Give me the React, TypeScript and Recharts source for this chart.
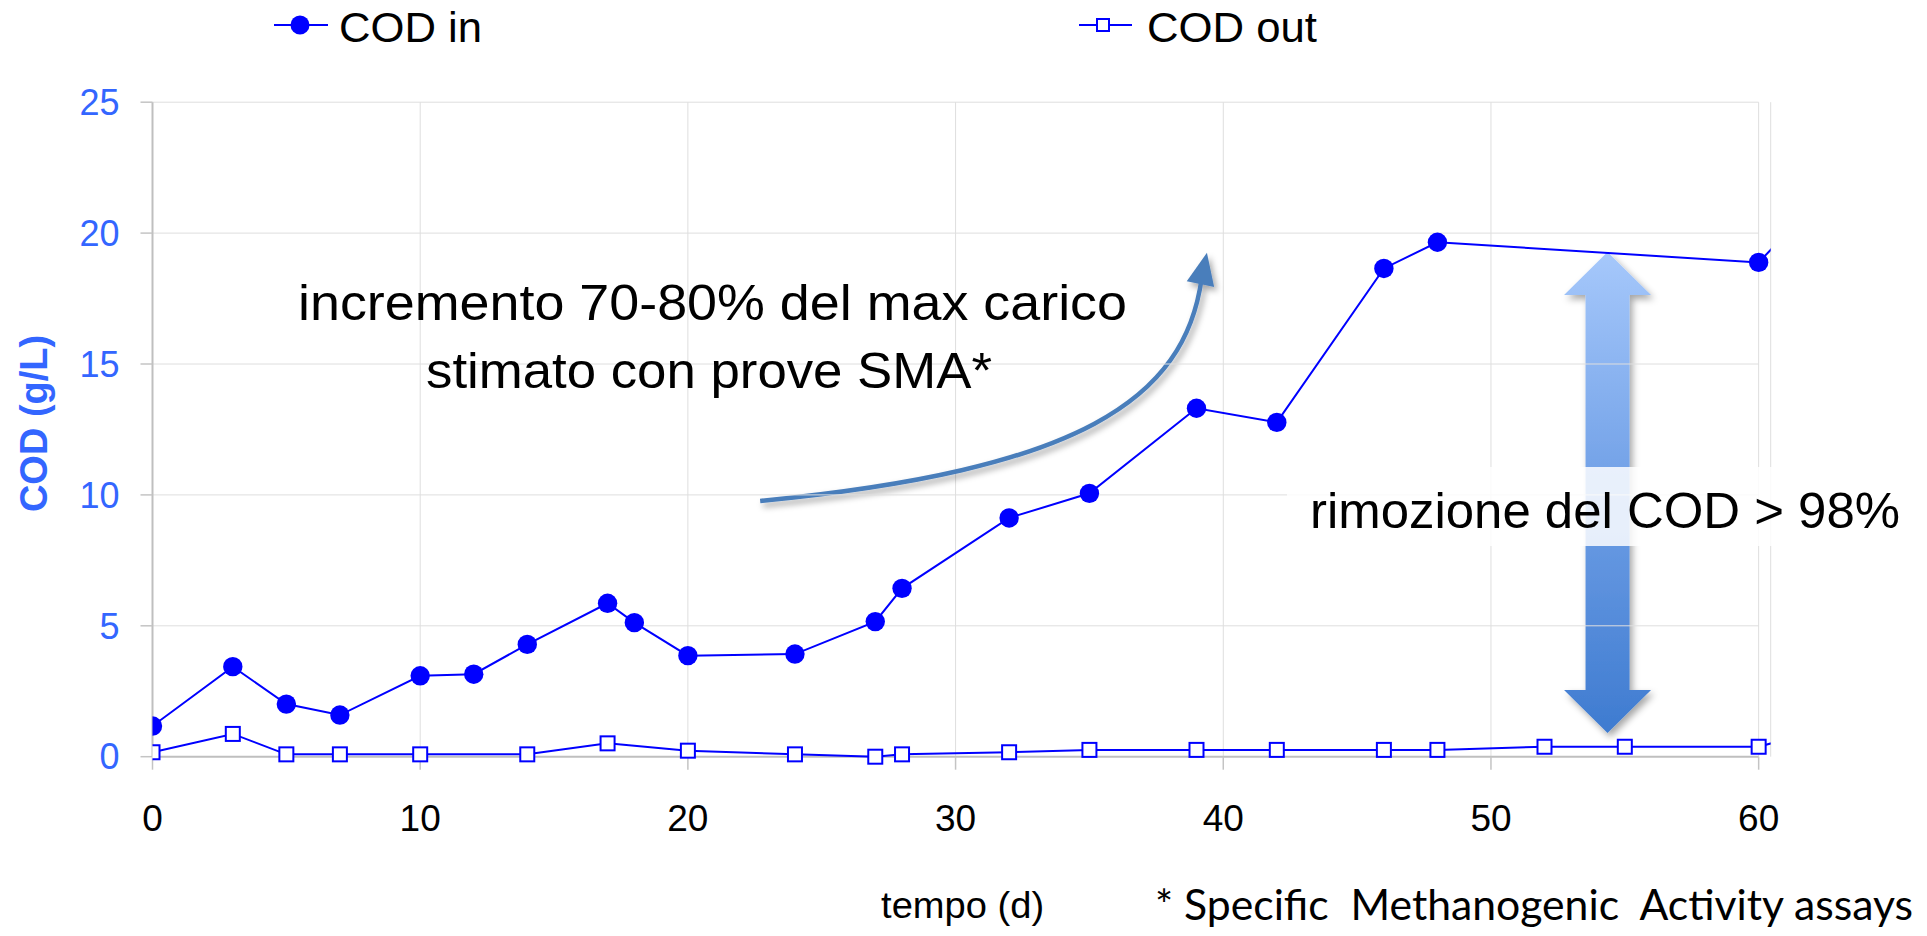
import React from 'react';
import {
  LineChart,
  Line,
  XAxis,
  YAxis,
  CartesianGrid,
  ReferenceLine,
  ReferenceArea,
  Legend,
} from 'recharts';

// ---------- data ----------
const codInDays = [0, 3, 5, 7, 10, 12, 14, 17, 18, 20, 24, 27, 28, 32, 35, 39, 42, 46, 48, 60, 61];
const codInValues = [1.17, 3.44, 2.01, 1.59, 3.09, 3.15, 4.29, 5.86, 5.12, 3.86, 3.92, 5.16, 6.43, 9.12, 10.06, 13.31, 12.77, 18.65, 19.65, 18.88, 19.95];
const codOutDays = [0, 3, 5, 7, 10, 14, 17, 20, 24, 27, 28, 32, 35, 39, 42, 46, 48, 52, 55, 60, 61];
const codOutValues = [0.17, 0.87, 0.09, 0.09, 0.09, 0.09, 0.51, 0.23, 0.09, 0.0, 0.09, 0.17, 0.26, 0.26, 0.26, 0.26, 0.26, 0.38, 0.38, 0.38, 0.66];
const xTicks = [0, 10, 20, 30, 40, 50, 60];
const yTicks = [0, 5, 10, 15, 20, 25];
const gridValues = [5, 10, 15, 20, 25];

const codInData = codInDays.map((d, i) => ({ day: d, value: codInValues[i] }));
const codOutData = codOutDays.map((d, i) => ({ day: d, value: codOutValues[i] }));

// annotation anchors (data units)
const curveArrowBox = { x1: 22.7, x2: 39.45, y1: 9.75, y2: 19.25 };
const removalArrowBox = { x1: 52.73, x2: 55.98, y1: 0.905, y2: 19.28 };

const FONT = "'Liberation Sans', Arial, Helvetica, sans-serif";
const BLUE = '#0000ff';
const AXIS_BLUE = '#3366ff';

const SquareDot = (props: any) => {
  const { cx, cy, index } = props;
  if (cx == null || cy == null) return null;
  return (
    <rect
      key={`sq-${index}`}
      x={cx - 7}
      y={cy - 7}
      width={14}
      height={14}
      fill="#ffffff"
      stroke={BLUE}
      strokeWidth={2}
    />
  );
};

const CurvedArrow = (props: any) => {
  const { x, y, width: w, height: h } = props;
  const P = (fx: number, fy: number) => [x + fx * w, y + fy * h];
  const p0 = P(0, 0.998);
  const p1 = P(0.713, 0.874);
  const p2 = P(0.947, 0.592);
  const p3 = P(0.983, 0.117);
  const tip = P(0.9964, 0.0);
  const dx = tip[0] - p3[0];
  const dy = tip[1] - p3[1];
  const len = Math.hypot(dx, dy);
  const ux = dx / len;
  const uy = dy / len;
  const base = [tip[0] - ux * 32, tip[1] - uy * 32];
  const px = -uy;
  const py = ux;
  const hw = 14;
  const head = `${tip[0]},${tip[1]} ${base[0] + px * hw},${base[1] + py * hw} ${base[0] - px * hw},${base[1] - py * hw}`;
  const shaftEnd = [tip[0] - ux * 26, tip[1] - uy * 26];
  return (
    <g>
      <defs>
        <filter id="curveShadow" x="-20%" y="-20%" width="140%" height="140%">
          <feDropShadow dx="3" dy="4" stdDeviation="3" floodColor="#000" floodOpacity="0.35" />
        </filter>
      </defs>
      <g filter="url(#curveShadow)">
        <path
          d={`M${p0[0]},${p0[1]} C${p1[0]},${p1[1]} ${p2[0]},${p2[1]} ${shaftEnd[0]},${shaftEnd[1]}`}
          fill="none"
          stroke="#4a7ebb"
          strokeWidth={4.5}
        />
        <polygon points={head} fill="#4a7ebb" />
      </g>
    </g>
  );
};

const DoubleArrow = (props: any) => {
  const { x, y, width: w, height: h } = props;
  const cx = x + w / 2;
  const headH = 43;
  const sh = 22;
  const pts = [
    [cx, y],
    [x + w, y + headH],
    [cx + sh, y + headH],
    [cx + sh, y + h - headH],
    [x + w, y + h - headH],
    [cx, y + h],
    [x, y + h - headH],
    [cx - sh, y + h - headH],
    [cx - sh, y + headH],
    [x, y + headH],
  ]
    .map((p) => `${p[0]},${p[1]}`)
    .join(' ');
  return (
    <g>
      <defs>
        <linearGradient id="dblGrad" x1="0" y1="0" x2="0" y2="1">
          <stop offset="0%" stopColor="#a6c8fb" />
          <stop offset="50%" stopColor="#6f9fe6" />
          <stop offset="100%" stopColor="#3e7bd0" />
        </linearGradient>
        <filter id="dblShadow" x="-40%" y="-10%" width="180%" height="120%">
          <feDropShadow dx="3" dy="4" stdDeviation="3.5" floodColor="#000" floodOpacity="0.35" />
        </filter>
      </defs>
      <polygon points={pts} fill="url(#dblGrad)" filter="url(#dblShadow)" />
    </g>
  );
};

const YLabel = (props: any) => {
  const vb = props.viewBox || { x: 0, y: 102, width: 152, height: 655 };
  const cx = 34;
  const cy = vb.y + vb.height / 2 - 6;
  return (
    <text
      x={cx}
      y={cy}
      transform={`rotate(-90 ${cx} ${cy})`}
      textAnchor="middle"
      dominantBaseline="central"
      fontFamily={FONT}
      fontWeight="bold"
      fontSize={38}
      fill={AXIS_BLUE}
    >
      COD (g/L)
    </text>
  );
};

const XLabel = (props: any) => {
  const vb = props.viewBox || { x: 152, y: 757, width: 1618, height: 80 };
  const cx = vb.x + vb.width / 2 + 1;
  return (
    <text
      x={cx}
      y={918}
      textAnchor="middle"
      fontFamily={FONT}
      fontSize={37}
      fill="#000"
      textLength={163}
      lengthAdjust="spacingAndGlyphs"
    >
      tempo (d)
    </text>
  );
};

const LegendContent = () => (
  <svg width={1927} height={60} style={{ display: 'block' }}>
    <line x1={274} x2={328} y1={25} y2={25} stroke={BLUE} strokeWidth={2} />
    <circle cx={300} cy={25} r={9.5} fill={BLUE} />
    <text x={339} y={42} fontSize={43} fontFamily={FONT} fill="#000" textLength={143} lengthAdjust="spacingAndGlyphs">
      COD in
    </text>
    <line x1={1079} x2={1132} y1={25} y2={25} stroke={BLUE} strokeWidth={2} />
    <rect x={1097} y={19} width={12} height={12} fill="#fff" stroke={BLUE} strokeWidth={2} />
    <text x={1147} y={42} fontSize={43} fontFamily={FONT} fill="#000" textLength={170} lengthAdjust="spacingAndGlyphs">
      COD out
    </text>
  </svg>
);

export default function App() {
  return (
    <div style={{ position: 'absolute', left: 0, top: 0, width: 1927, height: 936, background: '#fff' }}>
      <LineChart
        width={1927}
        height={936}
        margin={{ top: 102.2, right: 156.3, bottom: 99.3, left: 0.5 }}
      >
        <CartesianGrid horizontal={false} vertical stroke="#dedede" strokeWidth={1} />
        {gridValues.map((v) => (
          <ReferenceLine
            key={`g${v}`}
            segment={[
              { x: 0, y: v },
              { x: 60, y: v },
            ]}
            stroke="#dedede"
            strokeWidth={1}
          />
        ))}
        <ReferenceLine
          segment={[
            { x: 0, y: 0 },
            { x: 60, y: 0 },
          ]}
          stroke="#bfbfbf"
          strokeWidth={2}
        />
        <XAxis
          type="number"
          dataKey="day"
          domain={[0, 60.45]}
          allowDataOverflow
          ticks={xTicks}
          interval={0}
          axisLine={false}
          tickLine={{ stroke: '#c4c4c4', strokeWidth: 1.5 }}
          tickSize={13}
          tickMargin={35}
          tick={{ fill: '#000', fontSize: 37, fontFamily: FONT }}
          height={80}
          label={{ content: XLabel }}
        />
        <YAxis
          type="number"
          domain={[0, 25]}
          ticks={yTicks}
          interval={0}
          width={152}
          axisLine={{ stroke: '#bfbfbf', strokeWidth: 2 }}
          tickLine={{ stroke: '#c4c4c4', strokeWidth: 1.5 }}
          tickSize={12}
          tickMargin={21}
          tick={{ fill: AXIS_BLUE, fontSize: 36, fontFamily: FONT }}
          label={{ content: YLabel }}
        />
        <ReferenceArea
          x1={curveArrowBox.x1}
          x2={curveArrowBox.x2}
          y1={curveArrowBox.y1}
          y2={curveArrowBox.y2}
          shape={CurvedArrow}
        />
        <ReferenceArea
          x1={removalArrowBox.x1}
          x2={removalArrowBox.x2}
          y1={removalArrowBox.y1}
          y2={removalArrowBox.y2}
          shape={DoubleArrow}
        />
        <Legend
          verticalAlign="middle"
          layout="horizontal"
          content={LegendContent}
          wrapperStyle={{ top: 0, left: 0, width: 1927, height: 60 }}
        />
        <Line
          data={codOutData}
          dataKey="value"
          name="COD out"
          stroke={BLUE}
          strokeWidth={2}
          dot={SquareDot}
          activeDot={false}
          isAnimationActive={false}
        />
        <Line
          data={codInData}
          dataKey="value"
          name="COD in"
          stroke={BLUE}
          strokeWidth={2}
          dot={{ r: 9.7, fill: BLUE, stroke: BLUE, strokeWidth: 0 }}
          activeDot={false}
          isAnimationActive={false}
        />
      </LineChart>
      <svg
        width={1927}
        height={936}
        style={{ position: 'absolute', left: 0, top: 0, pointerEvents: 'none' }}
      >
        <text x={298} y={320} fontFamily={FONT} fontSize={50} fill="#000" textLength={829} lengthAdjust="spacingAndGlyphs">
          incremento 70-80% del max carico
        </text>
        <text x={426} y={388} fontFamily={FONT} fontSize={50} fill="#000" textLength={566} lengthAdjust="spacingAndGlyphs">
          stimato con prove SMA*
        </text>
        <rect x={1287} y={467} width={640} height={79} fill="#ffffff" fillOpacity={0.84} />
        <text x={1310} y={528} fontFamily={FONT} fontSize={50} fill="#000" textLength={590} lengthAdjust="spacingAndGlyphs">
          rimozione del COD &gt; 98%
        </text>
        <text x={1155} y={920} fontFamily="Lato, 'Open Sans', sans-serif" fontSize={43} fill="#000" textLength={758} lengthAdjust="spacingAndGlyphs" xmlSpace="preserve">
          {'* Specific  Methanogenic  Activity assays'}
        </text>
      </svg>
    </div>
  );
}
